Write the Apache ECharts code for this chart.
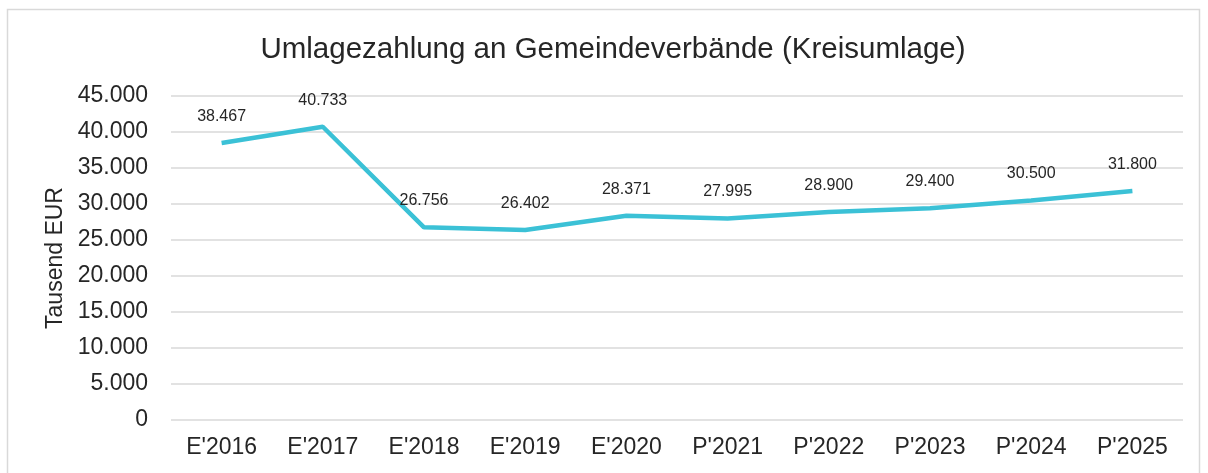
<!DOCTYPE html>
<html>
<head>
<meta charset="utf-8">
<script src="https://cdn.jsdelivr.net/npm/echarts@6/dist/echarts.min.js"></script>
<style>
  html, body { margin: 0; padding: 0; background: #fff; }
  #chart { width: 1208px; height: 473px; }
</style>
</head>
<body>
<div id="chart"></div>
<script>
// data
const years = ["E'2016", "E'2017", "E'2018", "E'2019", "E'2020", "P'2021", "P'2022", "P'2023", "P'2024", "P'2025"];
const kreisumlage = [38467, 40733, 26756, 26402, 28371, 27995, 28900, 29400, 30500, 31800];

const chart = echarts.init(document.getElementById("chart"));

// german thousands separator
const fmt = v => v === 0 ? "0" : v.toLocaleString("de-DE");

const option = {
    animation: false,
    textStyle: { fontFamily: "Liberation Sans, Arial, sans-serif" },
    graphic: [{
        type: "rect",
        shape: { x: 7.5, y: 9.5, width: 1192, height: 480 },
        style: { fill: "none", stroke: "#d9d9d9", lineWidth: 1.5 },
        silent: true
    }],
    title: {
        text: "Umlagezahlung an Gemeindeverbände (Kreisumlage)",
        left: 608,
        textAlign: "center",
        top: 30,
        textStyle: { fontSize: 29.5, fontWeight: "normal", color: "#262626" }
    },
    grid: { left: 171, right: 25, top: 96, bottom: 53 },
    xAxis: {
        type: "category",
        data: years,
        axisLine: { show: false },
        axisTick: { show: false },
        axisLabel: { fontSize: 23, color: "#262626", margin: 16 }
    },
    yAxis: {
        type: "value",
        min: 0,
        max: 45000,
        interval: 5000,
        name: "Tausend EUR",
        nameLocation: "middle",
        nameGap: 103,
        nameTextStyle: { fontSize: 23, color: "#262626" },
        axisLabel: { fontSize: 23, color: "#262626", margin: 23, formatter: fmt },
        splitLine: { lineStyle: { color: "#d9d9d9", width: 1.5 } }
    },
    series: [{
        type: "line",
        data: kreisumlage,
        symbol: "circle",
        symbolSize: 1,
        showSymbol: true,
        lineStyle: { color: "#3bc1d6", width: 4.5 },
        itemStyle: { color: "rgba(0,0,0,0)" },
        label: {
            show: true,
            position: "top",
            distance: 18,
            fontSize: 16,
            color: "#262626",
            formatter: p => fmt(p.value)
        }
    }]
};

chart.setOption(option);
</script>
</body>
</html>
